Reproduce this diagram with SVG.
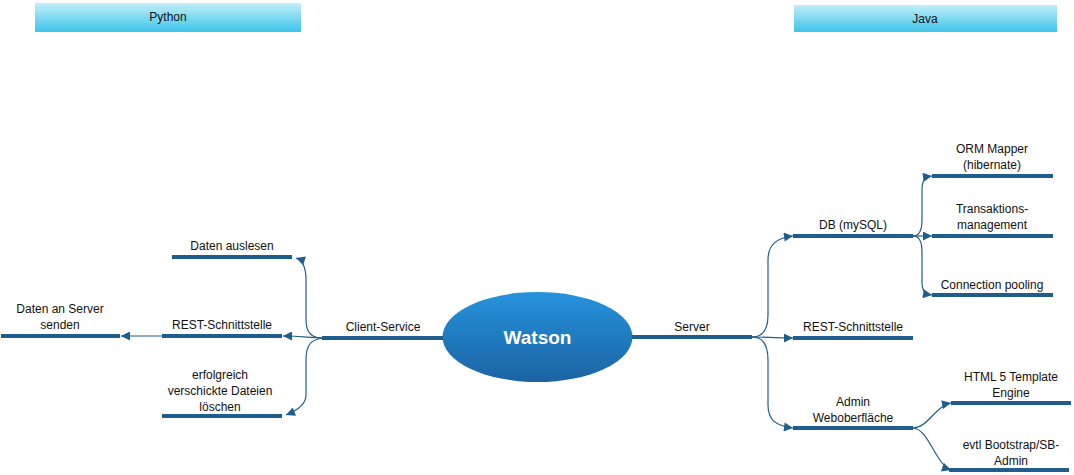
<svg xmlns="http://www.w3.org/2000/svg" width="1074" height="475" viewBox="0 0 1074 475">
<defs>
<linearGradient id="hdr" x1="0" y1="0" x2="0" y2="1">
<stop offset="0" stop-color="#c2eefa"/>
<stop offset="1" stop-color="#3cc4e9"/>
</linearGradient>
<linearGradient id="ell" x1="0" y1="0" x2="0" y2="1">
<stop offset="0" stop-color="#2693dc"/>
<stop offset="1" stop-color="#1b63a3"/>
</linearGradient>
<marker id="arr" viewBox="0 0 10 10" refX="10" refY="5" markerWidth="11" markerHeight="9" markerUnits="userSpaceOnUse" orient="auto">
<path d="M0,0 L10,5 L0,10 Z" fill="#1f5e8c"/>
</marker>
<style>
text{font-family:"Liberation Sans",Arial,sans-serif;font-size:12px;fill:#111;text-anchor:middle}
.bar{stroke:#1f5e8c;stroke-width:4;fill:none}
.con{stroke:#1f5e8c;stroke-width:1.2;fill:none;marker-end:url(#arr)}
.hd{fill:url(#hdr)}
</style>
</defs>
<rect width="1074" height="475" fill="#fff"/>
<g id="python">
<rect class="hd" x="35" y="3" width="266" height="29"/>
<text x="168" y="21">Python</text>
</g>
<g id="java">
<rect class="hd" x="794" y="5" width="263" height="27"/>
<text x="925" y="23">Java</text>
</g>
<g id="connectors">
<path class="con" d="M322,338 C312,338 306,332 306,320 L306,280 C306,266 302,260 296,258"/>
<path class="con" d="M322,338 C310,338 302,336 283,336"/>
<path class="con" d="M322,338 C310,340 306,346 306,360 L306,395 C306,405 296,411 286,415"/>
<path class="con" d="M162,336 L121,336"/>
<path class="con" d="M752,337 C763,337 768,330 768,315 L768,260 C768,245 776,238 793,236"/>
<path class="con" d="M752,337 C765,337 775,338 793,338"/>
<path class="con" d="M752,337 C763,337 768,345 768,360 L768,405 C768,420 776,426 793,428"/>
<path class="con" d="M913,236 C920,236 922,230 922,220 L922,190 C922,180 925,177 932,176"/>
<path class="con" d="M913,236 L932,236"/>
<path class="con" d="M913,236 C920,236 922,242 922,252 L922,282 C922,291 925,294 932,295"/>
<path class="con" d="M913,428 C928,428 935,406 951,403"/>
<path class="con" d="M913,428 C928,428 936,465 951,470"/>
</g>
<g id="watson">
<ellipse cx="537.5" cy="337" rx="95" ry="45" fill="url(#ell)"/>
<text x="537.5" y="344" style="font-size:19px;font-weight:bold;fill:#fff">Watson</text>
</g>
<g id="client-service">
<line class="bar" x1="322" y1="338" x2="443" y2="338"/>
<text x="383" y="331">Client-Service</text>
</g>
<g id="daten-auslesen">
<line class="bar" x1="172" y1="257" x2="292" y2="257"/>
<text x="232" y="250">Daten auslesen</text>
</g>
<g id="rest-client">
<line class="bar" x1="162" y1="336" x2="282" y2="336"/>
<text x="222" y="329">REST-Schnittstelle</text>
</g>
<g id="loeschen">
<line class="bar" x1="162" y1="416" x2="282" y2="416"/>
<text x="220" y="379">erfolgreich</text>
<text x="220" y="395">verschickte Dateien</text>
<text x="220" y="411">löschen</text>
</g>
<g id="senden">
<line class="bar" x1="1" y1="336" x2="120" y2="336"/>
<text x="60" y="313">Daten an Server</text>
<text x="60" y="329">senden</text>
</g>
<g id="server">
<line class="bar" x1="632" y1="337" x2="752" y2="337"/>
<text x="692" y="331">Server</text>
</g>
<g id="db">
<line class="bar" x1="793" y1="236" x2="913" y2="236"/>
<text x="853" y="229">DB (mySQL)</text>
</g>
<g id="rest-server">
<line class="bar" x1="793" y1="338" x2="913" y2="338"/>
<text x="853" y="331">REST-Schnittstelle</text>
</g>
<g id="admin">
<line class="bar" x1="793" y1="428" x2="913" y2="428"/>
<text x="853" y="406">Admin</text>
<text x="853" y="422">Weboberfläche</text>
</g>
<g id="orm">
<line class="bar" x1="932" y1="176" x2="1053" y2="176"/>
<text x="992" y="153">ORM Mapper</text>
<text x="992" y="169">(hibernate)</text>
</g>
<g id="transaktion">
<line class="bar" x1="932" y1="236" x2="1053" y2="236"/>
<text x="992" y="213">Transaktions-</text>
<text x="992" y="229">management</text>
</g>
<g id="pooling">
<line class="bar" x1="932" y1="295" x2="1053" y2="295"/>
<text x="992" y="289">Connection pooling</text>
</g>
<g id="html">
<line class="bar" x1="951" y1="403" x2="1071" y2="403"/>
<text x="1011" y="381">HTML 5 Template</text>
<text x="1011" y="397">Engine</text>
</g>
<g id="bootstrap">
<line class="bar" x1="949" y1="470" x2="1069" y2="470"/>
<text x="1011" y="449">evtl Bootstrap/SB-</text>
<text x="1011" y="465">Admin</text>
</g>
</svg>
